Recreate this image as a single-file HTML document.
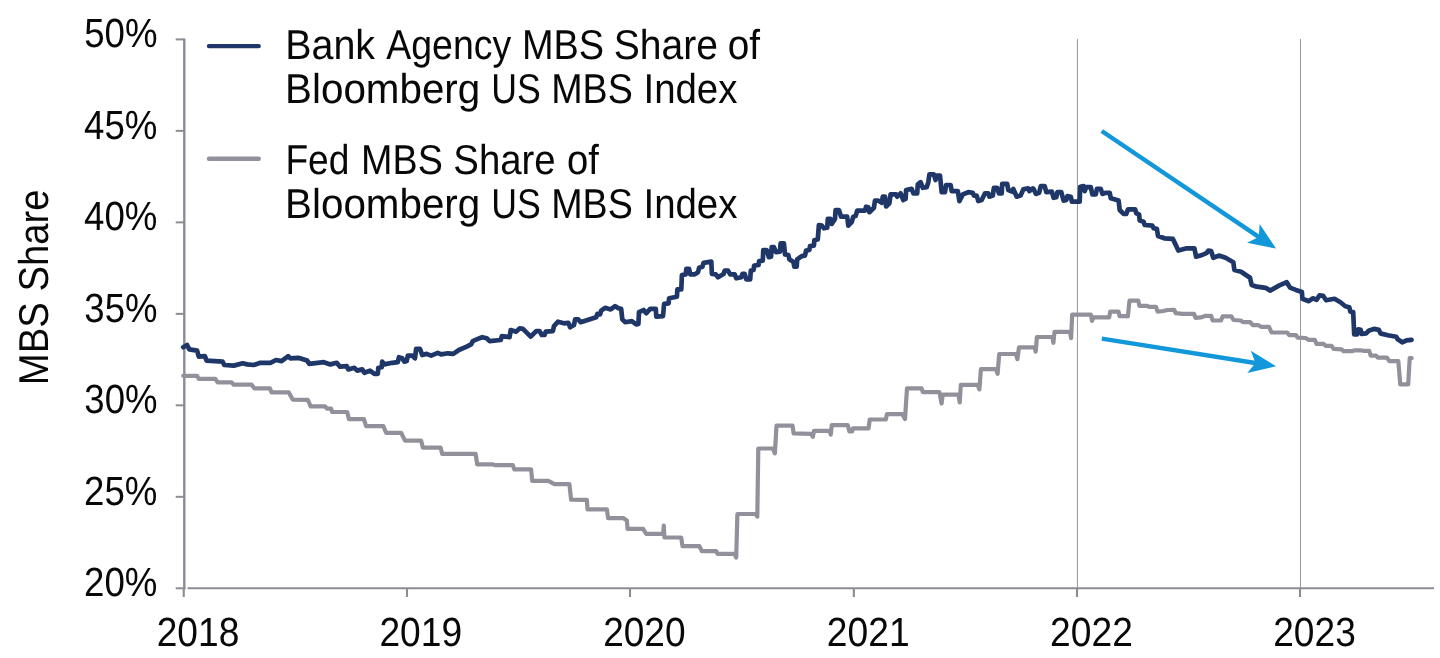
<!DOCTYPE html>
<html lang="en"><head><meta charset="utf-8"><title>MBS Share</title>
<style>html,body{margin:0;padding:0;background:#fff;}body{width:1440px;height:658px;overflow:hidden;font-family:"Liberation Sans",sans-serif;}svg{display:block;will-change:transform;}text{text-rendering:geometricPrecision;font-family:"Liberation Sans",sans-serif;font-size:40.7px;fill:#080808;}text.lg{font-size:41.7px;}</style>
</head><body>
<svg width="1440" height="658" viewBox="0 0 1440 658">
<rect width="1440" height="658" fill="#ffffff"/>
<g stroke="#9c9c9c" stroke-width="1.05" fill="none">
<line x1="1077.45" y1="39" x2="1077.45" y2="588.30"/>
<line x1="1300.50" y1="39" x2="1300.50" y2="588.30"/>
</g>
<g stroke="#8c8c95" fill="none">
<line x1="184.3" y1="38.40" x2="184.3" y2="589.30" stroke-width="2.4"/>
<line x1="183.75" y1="588.30" x2="183.75" y2="597" stroke-width="2.1"/>
<line x1="187.5" y1="588.30" x2="1434" y2="588.30" stroke-width="2.1"/>
<line x1="175.7" y1="39.40" x2="184.3" y2="39.40" stroke-width="2.0"/>
<line x1="175.7" y1="130.88" x2="184.3" y2="130.88" stroke-width="2.0"/>
<line x1="175.7" y1="222.37" x2="184.3" y2="222.37" stroke-width="2.0"/>
<line x1="175.7" y1="313.85" x2="184.3" y2="313.85" stroke-width="2.0"/>
<line x1="175.7" y1="405.33" x2="184.3" y2="405.33" stroke-width="2.0"/>
<line x1="175.7" y1="496.82" x2="184.3" y2="496.82" stroke-width="2.0"/>
<line x1="175.7" y1="588.30" x2="185.4" y2="588.30" stroke-width="2.0"/>
<line x1="407.00" y1="588.30" x2="407.00" y2="597" stroke-width="2.1"/>
<line x1="630.00" y1="588.30" x2="630.00" y2="597" stroke-width="2.1"/>
<line x1="853.85" y1="588.30" x2="853.85" y2="597" stroke-width="2.1"/>
<line x1="1077.00" y1="588.30" x2="1077.00" y2="597" stroke-width="2.1"/>
<line x1="1300.00" y1="588.30" x2="1300.00" y2="597" stroke-width="2.1"/>
</g>
<text transform="translate(84.23,47.35) scale(0.8990,1)">50%</text>
<text transform="translate(84.10,138.83) scale(0.9006,1)">45%</text>
<text transform="translate(84.10,230.32) scale(0.9006,1)">40%</text>
<text transform="translate(84.36,321.80) scale(0.8974,1)">35%</text>
<text transform="translate(84.36,413.28) scale(0.8974,1)">30%</text>
<text transform="translate(84.10,504.77) scale(0.9007,1)">25%</text>
<text transform="translate(84.10,596.25) scale(0.9007,1)">20%</text>
<text transform="translate(156.72,645.65) scale(0.9121,1)">2018</text>
<text transform="translate(379.42,645.65) scale(0.9134,1)">2019</text>
<text transform="translate(603.13,645.65) scale(0.9098,1)">2020</text>
<text transform="translate(826.87,645.65) scale(0.9137,1)">2021</text>
<text transform="translate(1050.12,645.65) scale(0.9144,1)">2022</text>
<text transform="translate(1273.22,645.65) scale(0.9124,1)">2023</text>
<text class="lg" transform="translate(48.1,382) rotate(-90) scale(0.9181,1)" x="-3.44">MBS Share</text>
<line x1="209" y1="46.1" x2="258.7" y2="46.1" stroke="#1e3768" stroke-width="4.4" stroke-linecap="round"/>
<line x1="209" y1="158.8" x2="258.7" y2="158.8" stroke="#92919b" stroke-width="4.4" stroke-linecap="round"/>
<text class="lg" transform="translate(285.15,58.90) scale(0.9462,1)">Bank</text>
<text class="lg" transform="translate(386.23,58.90) scale(0.8988,1)">Agency</text>
<text class="lg" transform="translate(521.88,58.90) scale(0.9092,1)">MBS</text>
<text class="lg" transform="translate(613.68,58.90) scale(0.9365,1)">Share</text>
<text class="lg" transform="translate(727.85,58.90) scale(0.9277,1)">of</text>
<text class="lg" transform="translate(285.07,103.15) scale(0.9682,1)">Bloomberg</text>
<text class="lg" transform="translate(491.23,103.15) scale(0.8556,1)">US</text>
<text class="lg" transform="translate(551.20,103.15) scale(0.9033,1)">MBS</text>
<text class="lg" transform="translate(643.45,103.15) scale(0.9217,1)">Index</text>
<text class="lg" transform="translate(285.07,218.15) scale(0.9682,1)">Bloomberg</text>
<text class="lg" transform="translate(491.23,218.15) scale(0.8556,1)">US</text>
<text class="lg" transform="translate(551.20,218.15) scale(0.9033,1)">MBS</text>
<text class="lg" transform="translate(643.45,218.15) scale(0.9217,1)">Index</text>
<text class="lg" transform="translate(285.44,173.90) scale(0.8908,1)">Fed</text>
<text class="lg" transform="translate(361.09,173.90) scale(0.9044,1)">MBS</text>
<text class="lg" transform="translate(453.32,173.90) scale(0.9197,1)">Share</text>
<text class="lg" transform="translate(566.97,173.90) scale(0.9156,1)">of</text>
<path d="M183.2 375.8 L197.1 375.8 L198.8 378.9 L215.4 378.9 L217.7 382.4 L231.6 382.4 L233.8 384.7 L251.6 384.7 L254.3 388.3 L269.9 388.3 L271.6 392.4 L288.8 392.4 L292.7 399.6 L307.8 399.8 L310.6 406.4 L325.0 406.4 L327.2 408.7 L331.1 408.7 L332.2 412.0 L347.2 412.0 L348.9 419.1 L363.9 419.1 L366.1 426.1 L383.3 426.1 L386.1 432.8 L401.1 432.8 L405.0 440.6 L421.1 440.6 L422.8 447.6 L440.6 447.6 L442.2 453.9 L475.6 453.9 L477.2 464.4 L492.8 464.4 L495.0 465.2 L512.8 465.2 L514.4 469.4 L531.1 469.4 L532.2 480.8 L548.3 480.8 L554.4 484.1 L569.4 484.1 L571.1 499.7 L586.9 499.8 L587.5 509.4 L606.9 509.4 L608.1 518.1 L623.1 518.1 L626.9 520.6 L627.5 528.8 L643.1 528.8 L646.2 533.8 L663.1 533.8 L663.8 525.6 L664.4 537.5 L681.2 537.5 L682.5 546.2 L699.4 546.2 L701.9 551.2 L716.2 551.2 L717.5 553.8 L734.4 553.8 L736.2 557.5 L737.4 514.0 L755.7 514.0 L757.3 516.6 L758.3 448.5 L772.8 448.5 L774.9 453.3 L776.5 425.7 L792.6 425.7 L793.6 433.4 L810.8 433.8 L812.9 436.7 L814.0 430.9 L829.6 430.9 L830.8 434.6 L831.7 425.2 L847.8 425.2 L849.4 431.5 L852.0 431.5 L853.0 428.3 L868.6 428.3 L869.7 419.5 L885.8 419.5 L886.9 414.2 L902.3 414.2 L905.0 419.0 L907.0 388.3 L921.6 388.3 L922.8 392.1 L939.4 392.1 L941.6 403.5 L942.7 394.7 L958.4 394.7 L959.7 402.5 L960.8 384.8 L977.5 384.8 L979.4 389.4 L980.9 369.1 L996.0 369.1 L997.6 373.8 L999.2 354.0 L1015.8 354.0 L1017.4 359.2 L1019.0 347.3 L1034.7 347.3 L1035.7 351.7 L1036.9 337.0 L1052.4 337.0 L1053.4 342.8 L1054.5 331.9 L1070.1 331.9 L1071.1 338.1 L1072.2 314.7 L1090.9 314.7 L1092.0 320.9 L1093.5 317.3 L1109.2 317.3 L1110.2 311.6 L1118.5 311.6 L1119.6 316.2 L1127.9 316.2 L1129.5 300.6 L1138.3 300.6 L1139.4 305.8 L1146.7 305.8 L1149.8 306.9 L1156.0 306.9 L1157.6 311.6 L1163.3 311.0 L1167.5 310.0 L1174.2 309.8 L1175.7 313.2 L1182.5 313.8 L1194.0 313.8 L1195.5 317.9 L1201.2 317.4 L1205.4 315.8 L1211.1 315.8 L1212.7 320.5 L1221.0 320.5 L1222.6 316.4 L1231.5 316.4 L1233.5 320.0 L1240.8 320.5 L1242.9 322.1 L1250.2 322.1 L1252.8 325.2 L1258.5 325.2 L1261.1 326.8 L1269.0 326.8 L1271.6 332.5 L1287.2 332.5 L1289.3 335.1 L1296.0 335.1 L1297.6 337.7 L1305.6 338.0 L1308.7 339.9 L1314.8 339.9 L1316.5 343.9 L1323.7 343.9 L1325.7 345.8 L1331.6 345.8 L1333.6 348.8 L1341.5 349.3 L1343.5 351.2 L1352.4 351.2 L1354.3 350.3 L1360.3 350.3 L1363.2 350.8 L1369.2 350.8 L1370.7 355.7 L1376.1 355.7 L1378.1 357.7 L1387.0 357.7 L1389.4 361.1 L1398.3 361.1 L1400.3 384.3 L1408.2 384.3 L1409.7 358.2 L1411.6 358.2" fill="none" stroke="#92919b" stroke-width="4.2" stroke-linejoin="round" stroke-linecap="round"/>
<path d="M183.2 347.2 L187.1 345.0 L189.3 349.4 L197.1 350.6 L198.8 356.7 L204.9 356.1 L206.6 360.6 L214.9 361.1 L222.7 361.7 L224.3 365.0 L233.8 365.6 L242.7 363.3 L247.1 364.4 L253.8 365.0 L260.4 362.8 L270.4 362.8 L276.0 360.0 L281.6 361.1 L288.2 356.1 L290.4 358.3 L298.2 357.8 L307.1 360.6 L309.3 363.9 L323.8 362.2 L330.4 364.4 L336.7 362.8 L340.0 366.7 L346.7 366.1 L348.3 369.4 L354.4 367.8 L357.2 370.6 L362.2 369.4 L364.4 372.8 L370.0 370.6 L374.4 373.9 L377.8 373.9 L378.3 367.8 L381.7 367.2 L382.2 361.7 L384.4 364.4 L392.2 362.8 L397.8 362.2 L398.9 357.2 L402.2 358.3 L404.4 361.7 L406.7 361.1 L407.8 355.6 L412.2 355.6 L415.0 358.3 L416.1 348.9 L420.0 348.9 L422.2 355.0 L426.7 353.9 L431.1 355.6 L437.8 352.8 L441.1 354.4 L447.8 353.3 L453.3 353.9 L458.9 350.0 L466.7 346.7 L471.1 344.4 L472.8 341.1 L477.8 338.9 L482.2 337.2 L486.7 338.3 L489.6 341.1 L500.7 340.0 L501.8 336.1 L509.6 337.2 L510.7 330.0 L516.2 331.7 L519.6 328.3 L522.9 328.9 L530.7 336.7 L536.2 331.1 L539.6 331.1 L541.8 335.0 L544.6 335.0 L545.7 331.7 L552.9 331.1 L554.0 326.1 L557.9 321.7 L564.0 323.3 L568.4 322.8 L570.1 327.2 L574.0 325.0 L575.1 319.4 L578.4 319.4 L580.7 322.2 L590.7 318.9 L596.2 317.2 L597.3 313.9 L600.1 314.4 L601.2 310.6 L605.1 307.8 L610.7 309.4 L615.1 306.1 L618.4 308.3 L621.2 308.9 L622.3 319.4 L625.1 322.2 L631.8 321.1 L636.2 324.4 L638.4 323.9 L639.0 312.2 L643.6 310.0 L646.3 313.3 L650.2 308.9 L655.8 308.9 L656.3 316.7 L663.0 316.1 L664.1 303.9 L668.6 303.3 L669.1 298.3 L676.9 296.7 L677.4 289.4 L681.3 289.4 L681.9 275.0 L685.8 274.4 L686.3 268.9 L689.1 268.9 L690.2 274.4 L694.7 274.4 L698.0 272.2 L699.1 267.8 L702.4 266.7 L703.6 262.8 L711.3 261.7 L711.9 273.9 L715.8 274.4 L718.0 277.2 L723.6 273.9 L724.7 270.6 L728.0 270.6 L730.2 274.4 L734.7 274.4 L736.3 278.3 L741.3 277.2 L742.4 273.9 L744.7 273.9 L746.3 279.4 L750.2 279.4 L750.8 270.6 L753.6 270.0 L754.1 265.6 L758.6 265.0 L759.1 261.1 L762.8 260.6 L763.3 250.0 L766.7 250.0 L768.9 257.2 L771.1 256.7 L771.7 247.2 L773.9 247.2 L776.1 252.2 L780.0 251.7 L780.6 243.3 L783.9 243.3 L785.0 254.4 L788.3 255.0 L789.4 259.4 L793.3 261.7 L794.4 266.7 L796.7 266.7 L797.2 259.4 L801.7 256.1 L805.0 255.6 L806.1 250.6 L809.4 250.0 L810.0 246.1 L813.9 245.6 L814.4 240.0 L817.8 239.4 L818.9 225.0 L821.7 225.6 L823.9 228.3 L827.2 227.8 L827.8 218.9 L830.6 218.9 L831.7 223.9 L835.0 218.9 L835.6 210.0 L838.9 210.0 L841.1 216.7 L847.2 216.7 L848.3 225.6 L851.7 222.2 L853.3 216.7 L855.6 216.1 L857.2 210.6 L865.0 210.6 L866.1 206.7 L868.3 207.2 L869.4 212.2 L873.9 207.8 L875.0 200.6 L878.3 200.6 L881.7 202.8 L882.8 196.7 L885.0 196.7 L886.1 206.5 L889.4 203.3 L890.6 194.4 L896.1 194.4 L897.2 196.7 L900.6 193.3 L903.3 200.0 L905.6 198.9 L906.1 190.0 L911.7 188.9 L913.3 193.3 L917.2 193.3 L917.8 184.4 L920.6 182.2 L922.8 187.8 L926.7 187.2 L928.3 182.2 L929.4 174.4 L933.9 174.4 L935.6 180.0 L936.7 175.6 L940.0 175.6 L941.7 192.2 L945.0 192.2 L946.1 185.0 L950.6 185.0 L951.7 191.1 L957.8 191.1 L959.4 201.1 L962.8 194.4 L968.3 192.2 L972.8 192.8 L973.9 195.6 L976.7 195.6 L978.3 201.1 L981.7 200.0 L985.0 193.3 L988.3 193.3 L989.4 196.7 L992.8 195.6 L993.9 187.8 L997.2 187.8 L998.9 193.3 L1001.7 193.3 L1002.2 183.9 L1007.2 183.9 L1008.3 190.0 L1012.2 191.7 L1013.3 188.9 L1016.7 196.7 L1020.6 195.6 L1023.3 189.4 L1028.3 188.3 L1029.4 191.1 L1032.8 188.3 L1033.6 188.9 L1035.8 193.9 L1039.1 192.8 L1040.8 186.1 L1044.7 186.1 L1046.3 192.2 L1051.9 191.7 L1053.6 197.8 L1056.3 197.2 L1057.4 192.2 L1061.3 192.2 L1063.6 200.6 L1066.3 200.0 L1067.4 196.1 L1070.8 196.7 L1071.9 201.7 L1079.7 201.7 L1080.2 186.7 L1083.6 186.1 L1084.7 191.1 L1086.3 187.2 L1090.8 187.2 L1092.4 194.4 L1095.8 194.4 L1096.9 188.9 L1100.8 188.9 L1102.4 193.9 L1105.8 192.8 L1109.7 192.8 L1110.8 198.3 L1118.6 200.6 L1119.7 210.0 L1123.6 213.9 L1126.3 213.9 L1128.0 209.4 L1135.2 209.4 L1136.3 213.3 L1139.1 214.4 L1139.7 220.6 L1143.6 221.7 L1144.7 225.0 L1152.4 225.6 L1153.6 228.3 L1156.9 228.9 L1158.0 236.0 L1164.4 238.3 L1172.8 238.9 L1176.1 245.6 L1178.3 250.6 L1186.7 248.3 L1194.4 248.3 L1196.1 256.7 L1202.2 255.0 L1206.7 252.8 L1208.3 250.6 L1211.1 251.1 L1213.3 257.8 L1218.9 255.6 L1225.6 257.8 L1233.3 262.2 L1234.4 270.0 L1241.1 271.7 L1250.0 277.8 L1251.7 285.0 L1256.7 286.7 L1265.6 287.8 L1270.0 290.6 L1278.9 285.6 L1286.7 282.2 L1290.0 287.6 L1295.9 289.9 L1301.9 291.9 L1302.4 298.8 L1308.8 301.2 L1312.7 298.3 L1316.7 299.8 L1319.6 295.3 L1323.1 295.8 L1326.1 300.3 L1334.5 298.8 L1340.4 302.2 L1345.3 306.2 L1349.3 307.2 L1350.3 311.6 L1353.2 312.1 L1354.2 334.3 L1357.2 334.3 L1358.2 329.4 L1360.7 329.9 L1361.6 333.9 L1366.1 333.4 L1369.1 330.4 L1374.0 328.9 L1378.9 329.9 L1380.4 333.4 L1387.8 335.3 L1396.2 336.8 L1397.7 339.3 L1402.2 342.3 L1406.6 340.3 L1411.5 339.8" fill="none" stroke="#1e3768" stroke-width="4.7" stroke-linejoin="round" stroke-linecap="round"/>
<line x1="1101.70" y1="131.00" x2="1261.24" y2="238.64" stroke="#1397db" stroke-width="4.5"/><path d="M1276.00 248.60 L1247.05 242.70 L1258.76 236.97 L1259.69 223.96 Z" fill="#1397db"/>
<line x1="1101.80" y1="338.60" x2="1258.42" y2="363.41" stroke="#1397db" stroke-width="4.5"/><path d="M1276.00 366.20 L1247.27 373.09 L1255.46 362.95 L1250.80 350.77 Z" fill="#1397db"/>
</svg></body></html>
